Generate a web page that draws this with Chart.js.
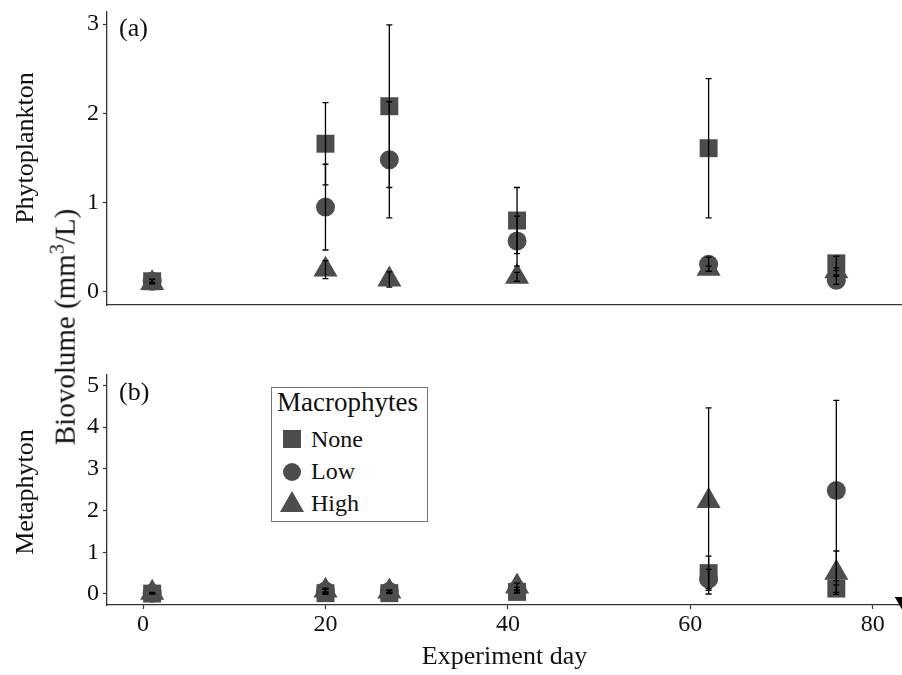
<!DOCTYPE html>
<html>
<head>
<meta charset="utf-8">
<script src="https://cdn.jsdelivr.net/npm/chart.js@4.4.1/dist/chart.umd.min.js"></script>
<style>
  body { margin: 0; background: #fff; font-family: "Liberation Serif", "Times New Roman", serif; color: #111; }
  #page { position: relative; width: 902px; height: 675px; overflow: hidden; }
  canvas { position: absolute; left: 0; }
  #topChart { top: 0; }
  #botChart { top: 320px; }
  .ylab { position: absolute; font-size: 26px; line-height: 1; white-space: nowrap; transform: translate(-50%, -50%) rotate(-90deg); }
  .tag { position: absolute; font-size: 26px; line-height: 1; }
  #legend { position: absolute; left: 271px; top: 387px; width: 157px; height: 135px; box-sizing: border-box; border: 1px solid #777; background: #fff; }
  #legend .t { position: absolute; left: 5px; top: 1px; font-size: 27px; line-height: 1; }
  #legend .it { position: absolute; left: 39px; font-size: 24px; line-height: 1; }
  #legend .sq { position: absolute; left: 11px; top: 42px; width: 18px; height: 18px; background: #4d4d4d; }
  #legend .ci { position: absolute; left: 11px; top: 75px; width: 18px; height: 18px; border-radius: 50%; background: #4d4d4d; }
  #legend .tr { position: absolute; left: 8px; top: 103px; width: 0; height: 0; border-left: 12px solid transparent; border-right: 12px solid transparent; border-bottom: 21px solid #4d4d4d; }
</style>
</head>
<body>
<div id="page">
  <canvas id="topChart" width="902" height="320"></canvas>
  <canvas id="botChart" width="902" height="355"></canvas>
  <div class="ylab" style="left:25px; top:148px;">Phytoplankton</div>
  <div class="ylab" style="left:25px; top:492px;">Metaphyton</div>
  <div class="ylab" style="left:63px; top:327px; font-size:29px;">Biovolume (mm<sup style="font-size:20px">3</sup>/L)</div>
  <div class="tag" style="left:119px; top:15px;">(a)</div>
  <div class="tag" style="left:119px; top:379px;">(b)</div>
  <div id="legend">
    <div class="t">Macrophytes</div>
    <div class="sq"></div><div class="it" style="top:39px;">None</div>
    <div class="ci"></div><div class="it" style="top:71px;">Low</div>
    <div class="tr"></div><div class="it" style="top:103px;">High</div>
  </div>
</div>
<script>
// sampling days
const days = [1, 20, 27, 41, 62, 76];
const xTicks = [0, 20, 40, 60, 80];

// (a) phytoplankton biovolume, mean and error
const phytoNone = [0.12, 1.66, 2.08, 0.80, 1.61, 0.32];
const phytoNoneErr = [0.02, 0.46, 0.91, 0.37, 0.78, 0.08];
const phytoLow = [0.12, 0.95, 1.48, 0.57, 0.31, 0.13];
const phytoLowErr = [0.02, 0.48, 0.65, 0.28, 0.08, 0.045];
const phytoHigh = [0.10, 0.25, 0.14, 0.17, 0.26, 0.23];
const phytoHighErr = [0.01, 0.10, 0.085, 0.05, 0.03, 0.04];
const phytoTicks = [0, 1, 2, 3];

// (b) metaphyton biovolume, mean and error
const metaNone = [0.01, 0.02, 0.02, 0.05, 0.50, 0.13];
const metaNoneErr = [0.01, 0.02, 0.01, 0.03, 0.41, 0.09];
const metaLow = [0.02, 0.07, 0.06, 0.10, 0.36, 2.48];
const metaLowErr = [0.01, 0.07, 0.04, 0.06, 0.23, 2.16];
const metaHigh = [0.03, 0.08, 0.06, 0.18, 2.23, 0.51];
const metaHighErr = [0.01, 0.03, 0.02, 0.08, 2.23, 0.52];
const metaTicks = [0, 1, 2, 3, 4, 5];

// stray marker at the right edge of panel (b)
const edgeDay = [83.26];
const edgeVal = [-0.18];

const serif = '"Liberation Serif", "Times New Roman", serif';
const fill = '#4d4d4d';
const axisCol = '#333';

const pts = (vals) => vals.map((v, i) => ({ x: days[i], y: v }));

const errorBars = {
    id: 'errorBars',
    afterDatasetsDraw(chart) {
        const { ctx, scales: { x, y } } = chart;
        ctx.save();
        ctx.strokeStyle = '#000';
        ctx.lineWidth = 1.3;
        chart.data.datasets.forEach(ds => {
            if (!ds.err) return;
            ds.data.forEach((p, i) => {
                const px = x.getPixelForValue(p.x);
                const hi = y.getPixelForValue(p.y + ds.err[i]);
                const lo = y.getPixelForValue(p.y - ds.err[i]);
                ctx.beginPath();
                ctx.moveTo(px, hi); ctx.lineTo(px, lo);
                ctx.moveTo(px - 3, hi); ctx.lineTo(px + 3, hi);
                ctx.moveTo(px - 3, lo); ctx.lineTo(px + 3, lo);
                ctx.stroke();
            });
        });
        ctx.restore();
    }
};

const series = (vals, err, style, r) => ({
    data: pts(vals),
    err: err,
    pointStyle: style,
    pointRadius: r,
    pointHoverRadius: r,
    backgroundColor: fill,
    borderColor: fill,
    borderWidth: 0,
    clip: false
});

function makeChart(id, sets, yMin, yMax, yTicks, bottomAxis, padTop) {
    return new Chart(document.getElementById(id), {
        type: 'scatter',
        data: { datasets: sets },
        options: {
            responsive: false,
            animation: false,
            events: [],
            layout: { autoPadding: false, padding: { top: padTop, right: 0, bottom: 0, left: 0 } },
            plugins: { legend: { display: false }, tooltip: { enabled: false } },
            scales: {
                x: {
                    type: 'linear', min: -3.95, max: 83.2,
                    afterBuildTicks: s => { s.ticks = xTicks.map(v => ({ value: v })); },
                    afterFit: s => {
                        s.height = bottomAxis ? 70 : 15;
                        s.paddingLeft = 0; s.paddingRight = 0;
                    },
                    grid: { drawOnChartArea: false, drawTicks: bottomAxis, tickLength: 4, tickColor: axisCol, tickWidth: 1.2 },
                    border: { display: true, color: axisCol, width: 1.3 },
                    ticks: { display: bottomAxis, color: '#111', padding: 1, maxRotation: 0, font: { family: serif, size: 24 } },
                    title: { display: bottomAxis, text: 'Experiment day', color: '#111', padding: { top: 0, bottom: 2 }, font: { family: serif, size: 26 } }
                },
                y: {
                    min: yMin, max: yMax,
                    afterBuildTicks: s => { s.ticks = yTicks.map(v => ({ value: v })); },
                    afterFit: s => {
                        s.width = 107;
                        s.paddingTop = 0; s.paddingBottom = 0;
                    },
                    grid: { drawOnChartArea: false, tickLength: 4, tickColor: axisCol, tickWidth: 1.2 },
                    border: { display: true, color: axisCol, width: 1.3 },
                    ticks: { color: '#111', padding: 4, font: { family: serif, size: 24 } }
                }
            }
        },
        plugins: [errorBars]
    });
}

makeChart('topChart', [
    series(phytoHigh, phytoHighErr, 'triangle', 13.9),
    series(phytoNone, phytoNoneErr, 'rect', 12.7),
    series(phytoLow, phytoLowErr, 'circle', 9.5)
], -0.146, 3.135, phytoTicks, false, 12);

const edgeMark = {
    data: edgeDay.map((d, i) => ({ x: d, y: edgeVal[i] })),
    pointStyle: 'triangle', rotation: 180, pointRadius: 9,
    backgroundColor: '#000', borderWidth: 0, clip: false
};

makeChart('botChart', [
    series(metaNone, metaNoneErr, 'rect', 12.7),
    series(metaLow, metaLowErr, 'circle', 9.5),
    series(metaHigh, metaHighErr, 'triangle', 13.9),
    edgeMark
], -0.264, 5.25, metaTicks, true, 55);
</script>
</body>
</html>
